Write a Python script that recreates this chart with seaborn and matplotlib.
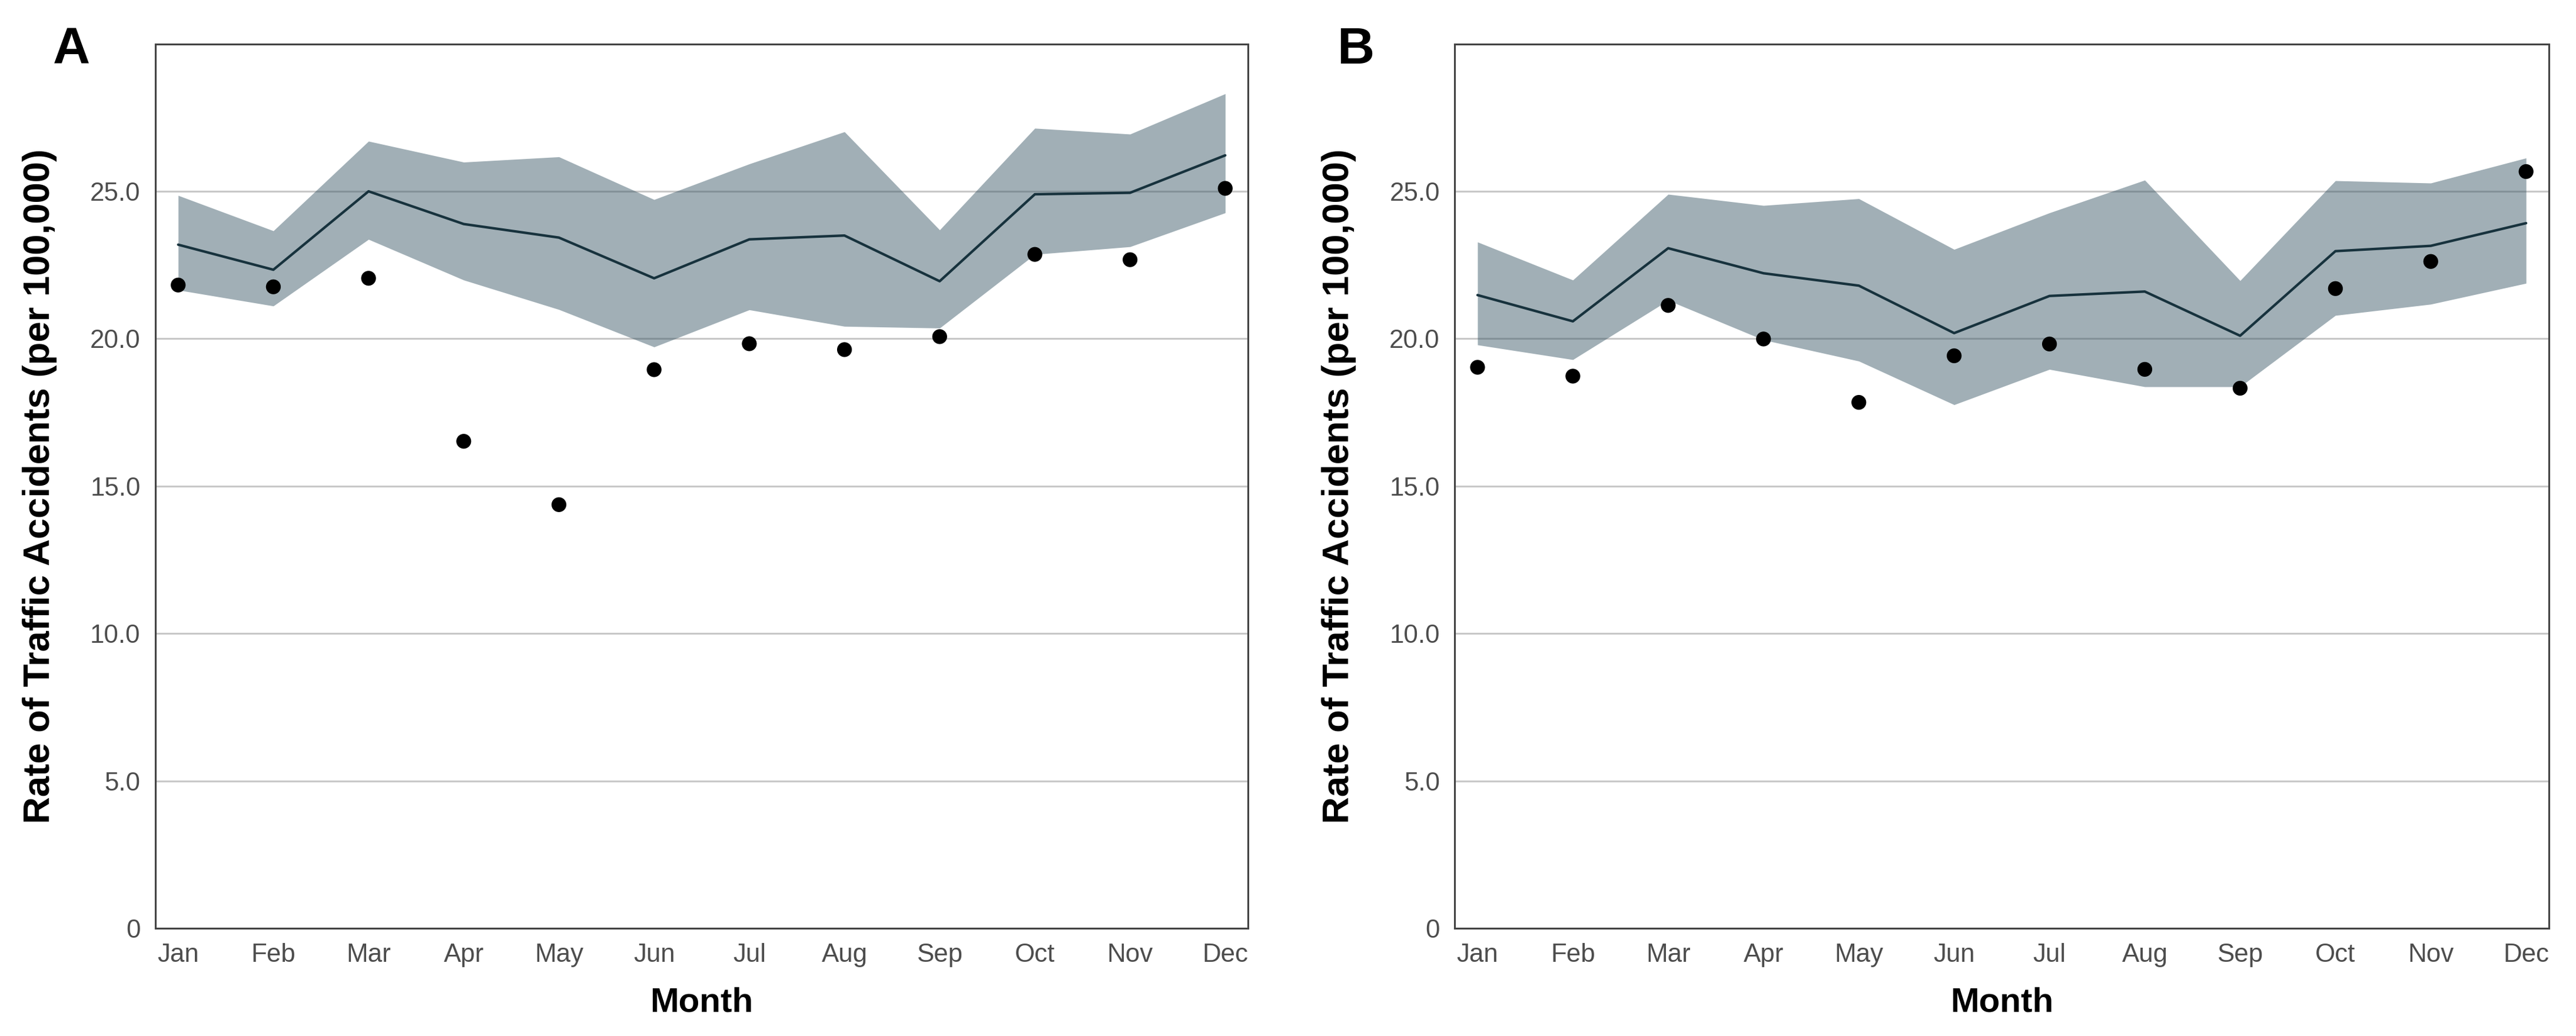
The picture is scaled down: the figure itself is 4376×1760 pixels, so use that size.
import numpy as np
import pandas as pd
import matplotlib
matplotlib.use("Agg")
import matplotlib.pyplot as plt
import seaborn as sns

# Data (rate of traffic accidents per 100,000)
months = ["Jan", "Feb", "Mar", "Apr", "May", "Jun", "Jul", "Aug", "Sep", "Oct", "Nov", "Dec"]

# Panel A
a_pred = [23.19, 22.34, 25.00, 23.89, 23.43, 22.05, 23.37, 23.50, 21.95, 24.90, 24.95, 26.22]
a_upper = [24.86, 23.66, 26.70, 25.99, 26.17, 24.72, 25.93, 27.02, 23.69, 27.14, 26.94, 28.31]
a_lower = [21.65, 21.11, 23.37, 21.99, 20.99, 19.72, 20.98, 20.42, 20.36, 22.86, 23.12, 24.27]
a_obs = [21.82, 21.76, 22.05, 16.52, 14.37, 18.95, 19.83, 19.63, 20.07, 22.86, 22.68, 25.10]

# Panel B
b_pred = [21.48, 20.59, 23.07, 22.22, 21.80, 20.19, 21.45, 21.60, 20.10, 22.97, 23.15, 23.92]
b_upper = [23.28, 21.99, 24.90, 24.52, 24.75, 23.03, 24.27, 25.38, 21.97, 25.36, 25.28, 26.13]
b_lower = [19.79, 19.29, 21.30, 19.96, 19.24, 17.76, 18.96, 18.37, 18.37, 20.79, 21.17, 21.88]
b_obs = [19.03, 18.73, 21.13, 19.99, 17.84, 19.42, 19.82, 18.96, 18.32, 21.70, 22.62, 25.67]

y_ticks = [0, 5, 10, 15, 20, 25]
y_tick_labels = ["0", "5.0", "10.0", "15.0", "20.0", "25.0"]

band_color = "#2f4f5f"
line_color = "#17323d"


def make_frame(pred, upper, lower, obs):
    df = pd.DataFrame({"month": months, "pred": pred, "upper": upper,
                       "lower": lower, "obs": obs})
    df["pos"] = np.arange(len(df))
    return df


def draw_panel(ax, df, letter, letter_x):
    ax.fill_between(df["pos"], df["lower"], df["upper"], color=band_color,
                    alpha=0.45, linewidth=0, zorder=2)
    sns.lineplot(data=df, x="pos", y="pred", ax=ax, color=line_color,
                 linewidth=1.1, zorder=3)
    sns.scatterplot(data=df, x="pos", y="obs", ax=ax, color="black", s=42,
                    edgecolor="none", zorder=4)

    ax.set_xlim(-0.24, len(df) - 1 + 0.24)
    ax.set_ylim(0, 30)
    ax.set_xticks(df["pos"])
    ax.set_xticklabels(df["month"])
    ax.set_yticks(y_ticks)
    ax.set_yticklabels(y_tick_labels)

    ax.grid(axis="y", color="#c8c8c8", linewidth=0.8, zorder=0)
    ax.grid(axis="x", visible=False)
    ax.set_axisbelow(True)
    for sp in ax.spines.values():
        sp.set_visible(True)
        sp.set_color("#444444")
        sp.set_linewidth(0.8)
    ax.tick_params(axis="both", length=3.5, width=0.9, color="#333333",
                   labelcolor="#4d4d4d", labelsize=11.3, pad=3)

    ax.set_xlabel("Month", fontsize=15, fontweight="bold", color="black")
    ax.set_ylabel("Rate of Traffic Accidents (per 100,000)", fontsize=16.3,
                  fontweight="bold", color="black")
    ax.xaxis.set_label_coords(0.5, -0.066)
    ax.yaxis.set_label_coords(-0.090, 0.5)
    ax.text(letter_x, 0.993, letter, transform=ax.transAxes, fontsize=22.5,
            fontweight="bold", ha="center", va="center", color="black")


def main():
    sns.set_style("white")
    plt.rcParams["font.family"] = ["Liberation Sans", "DejaVu Sans"]

    fig = plt.figure(figsize=(4376 / 280, 1760 / 280), dpi=280)
    ax_a = fig.add_axes([0.0603, 0.104, 0.4242, 0.8536])
    ax_b = fig.add_axes([0.5647, 0.104, 0.4248, 0.8536])

    draw_panel(ax_a, make_frame(a_pred, a_upper, a_lower, a_obs), "A", -0.0765)
    draw_panel(ax_b, make_frame(b_pred, b_upper, b_lower, b_obs), "B", -0.0904)

    fig.savefig("out.png", dpi=280, facecolor="white")


if __name__ == "__main__":
    main()
